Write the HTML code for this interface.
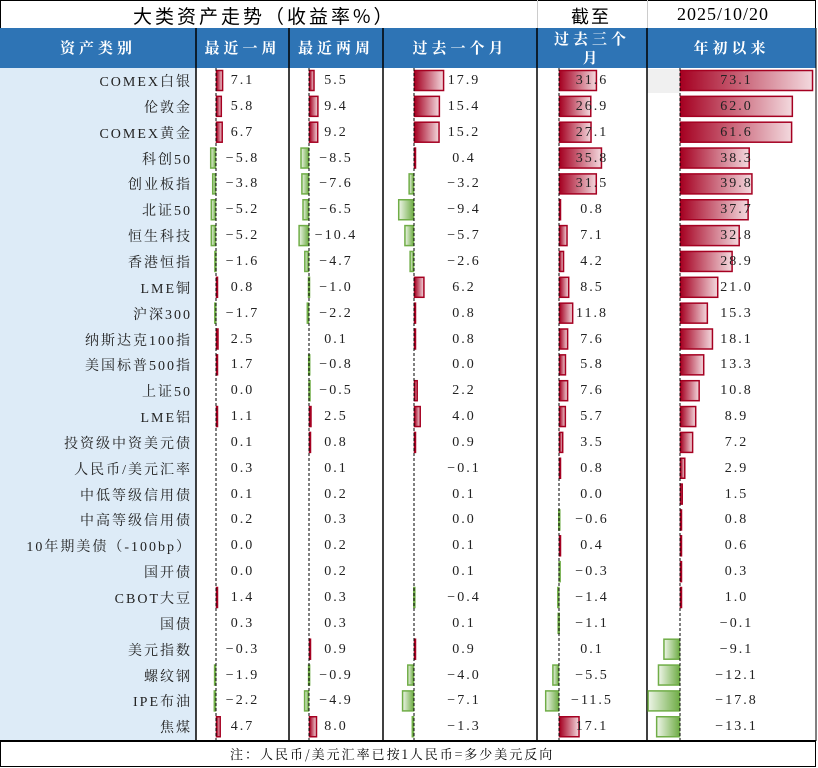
<!DOCTYPE html>
<html><head><meta charset="utf-8">
<style>
body{margin:0;width:818px;height:768px;background:#fff;font-family:"Liberation Serif","Noto Serif CJK SC",serif;overflow:hidden;position:relative}
.abs{position:absolute}
.t{position:absolute;white-space:nowrap;font-size:14px;color:#222;letter-spacing:2px}
.hd{position:absolute;color:#fff;font-size:15px;font-weight:bold;letter-spacing:4px;text-align:center;font-family:"Noto Serif CJK SC",serif}
</style></head><body>
<div class="abs" style="left:0;top:0;width:816px;height:28px;border:1px solid #000;box-sizing:border-box;border-bottom:none"></div>
<div class="t" style="left:133px;top:2px;font-size:19px;letter-spacing:3px;font-family:'Noto Sans CJK SC',sans-serif;color:#000">大类资产走势（收益率%）</div>
<div class="abs" style="left:537px;top:0;width:1px;height:28px;background:#ccc"></div>
<div class="abs" style="left:647px;top:0;width:1px;height:28px;background:#ccc"></div>
<div class="t" style="left:571px;top:3px;font-size:18px;font-family:'Noto Sans CJK SC',sans-serif;color:#000">截至</div>
<div class="t" style="left:677px;top:4px;font-size:18px;color:#000;letter-spacing:1px">2025/10/20</div>
<div class="abs" style="left:0;top:28px;width:816px;height:40px;background:#2e74b5"></div>
<div id="heads"></div>
<div class="abs" style="left:0;top:68px;width:196px;height:672px;background:#ddebf7"></div>
<div class="abs" style="left:647px;top:69px;width:33px;height:24px;background:#f0f0f0"></div>
<div id="rows"></div>
<div class="abs" style="left:0;top:740px;width:816px;height:27px;border:1px solid #000;box-sizing:border-box;border-top:2px solid #000"></div>
<div class="t" style="left:230px;top:744px;font-size:13px;font-family:'Noto Serif CJK SC',serif;color:#000">注：人民币/美元汇率已按1人民币=多少美元反向</div>
<svg id="svg" class="abs" style="left:0;top:0" width="818" height="768"></svg>
<script>
const labels=["COMEX白银","伦敦金","COMEX黄金","科创50","创业板指","北证50","恒生科技","香港恒指","LME铜","沪深300","纳斯达克100指","美国标普500指","上证50","LME铝","投资级中资美元债","人民币/美元汇率","中低等级信用债","中高等级信用债","10年期美债（-100bp）","国开债","CBOT大豆","国债","美元指数","螺纹钢","IPE布油","焦煤"];
const week1=[7.1,5.8,6.7,-5.8,-3.8,-5.2,-5.2,-1.6,0.8,-1.7,2.5,1.7,0.0,1.1,0.1,0.3,0.1,0.2,0.0,0.0,1.4,0.3,-0.3,-1.9,-2.2,4.7];
const week2=[5.5,9.4,9.2,-8.5,-7.6,-6.5,-10.4,-4.7,-1.0,-2.2,0.1,-0.8,-0.5,2.5,0.8,0.1,0.2,0.3,0.2,0.2,0.3,0.3,0.9,-0.9,-4.9,8.0];
const month1=[17.9,15.4,15.2,0.4,-3.2,-9.4,-5.7,-2.6,6.2,0.8,0.8,0.0,2.2,4.0,0.9,-0.1,0.1,0.0,0.1,0.1,-0.4,0.1,0.9,-4.0,-7.1,-1.3];
const month3=[31.6,26.9,27.1,35.8,31.5,0.8,7.1,4.2,8.5,11.8,7.6,5.8,7.6,5.7,3.5,0.8,0.0,-0.6,0.4,-0.3,-1.4,-1.1,0.1,-5.5,-11.5,17.1];
const ytd=[73.1,62.0,61.6,38.3,39.8,37.7,32.8,28.9,21.0,15.3,18.1,13.3,10.8,8.9,7.2,2.9,1.5,0.8,0.6,0.3,1.0,-0.1,-9.1,-12.1,-17.8,-13.1];
const headers=["资产类别","最近一周","最近两周","过去一个月","过去三个\n月","年初以来"];
const cols=[{x0:196,x1:289,ax:216,k:1.0,d:week1},{x0:289,x1:383,ax:309,k:1.0,d:week2},{x0:383,x1:537,ax:414,k:1.68,d:month1},{x0:537,x1:647,ax:559,k:1.2,d:month3},{x0:647,x1:816,ax:680,k:1.82,d:ytd}];
const colNames=["week1","week2","month1","month3","ytd"];
const top0=68,rh=25.85;
const svg=document.getElementById('svg');const NS="http://www.w3.org/2000/svg";
const hx=[0,196,289,383,537,647,816];
const H=document.getElementById('heads');
headers.forEach((h,i)=>{const d=document.createElement('div');d.className='hd';


d.style.left=hx[i]+'px';d.style.width=(hx[i+1]-hx[i])+'px';
if(h.includes('\n')){d.style.top='29px';d.style.lineHeight='19px';d.innerHTML=h.replace('\n','<br>');}else{d.style.top='37px';d.textContent=h;}
H.appendChild(d);});
let defs=document.createElementNS(NS,'defs');
defs.innerHTML='<linearGradient id="gr"><stop offset="0" stop-color="#a50021"/><stop offset="1" stop-color="#f3d9de"/></linearGradient><linearGradient id="gg"><stop offset="0" stop-color="#eef5e8"/><stop offset="1" stop-color="#70ad47"/></linearGradient>';
svg.appendChild(defs);
[196,289,383,537,647,816].forEach(x=>{const l=document.createElementNS(NS,'line');l.setAttribute('x1',x);l.setAttribute('x2',x);l.setAttribute('y1',28);l.setAttribute('y2',741);l.setAttribute('stroke','#000');l.setAttribute('stroke-width',x==816?1:1.5);svg.appendChild(l);});
const R=document.getElementById('rows');
labels.forEach((lab,r)=>{const y=top0+r*rh;
const t=document.createElement('div');t.className='t';


t.style.right=(818-192)+'px';t.style.top=(y+3)+'px';t.style.letterSpacing='2px';t.textContent=lab;R.appendChild(t);
cols.forEach((c,ci)=>{const v=c.d[r];const w=Math.abs(v)*c.k;
if(w>0.3){const b=document.createElementNS(NS,'rect');


const x=v>=0?c.ax:c.ax-w;b.setAttribute('x',x+0.5);b.setAttribute('y',y+2.5);b.setAttribute('width',Math.max(w-1,1));b.setAttribute('height',20);
b.setAttribute('fill',v>=0?'url(#gr)':'url(#gg)');b.setAttribute('stroke',v>=0?'#a50021':'#70ad47');b.setAttribute('stroke-width',1.5);svg.appendChild(b);}
const tv=document.createElement('div');tv.className='t';


tv.style.left=c.x0+'px';tv.style.width=(c.x1-c.x0)+'px';tv.style.textAlign='center';tv.style.top=(y+5)+'px';tv.style.zIndex=5;
tv.textContent=v.toFixed(1).replace('-0.0','0.0').replace('-','−');
if(ci==4)tv.style.paddingLeft='10px';if(ci==2)tv.style.paddingLeft='8px';
tv.style.boxSizing='border-box';R.appendChild(tv);});});
cols.forEach(c=>{const l=document.createElementNS(NS,'line');l.setAttribute('x1',c.ax);l.setAttribute('x2',c.ax);l.setAttribute('y1',68);l.setAttribute('y2',740);l.setAttribute('stroke','#000');l.setAttribute('stroke-dasharray','3,2');svg.appendChild(l);});
svg.style.zIndex=3;
</script>
</body></html>
